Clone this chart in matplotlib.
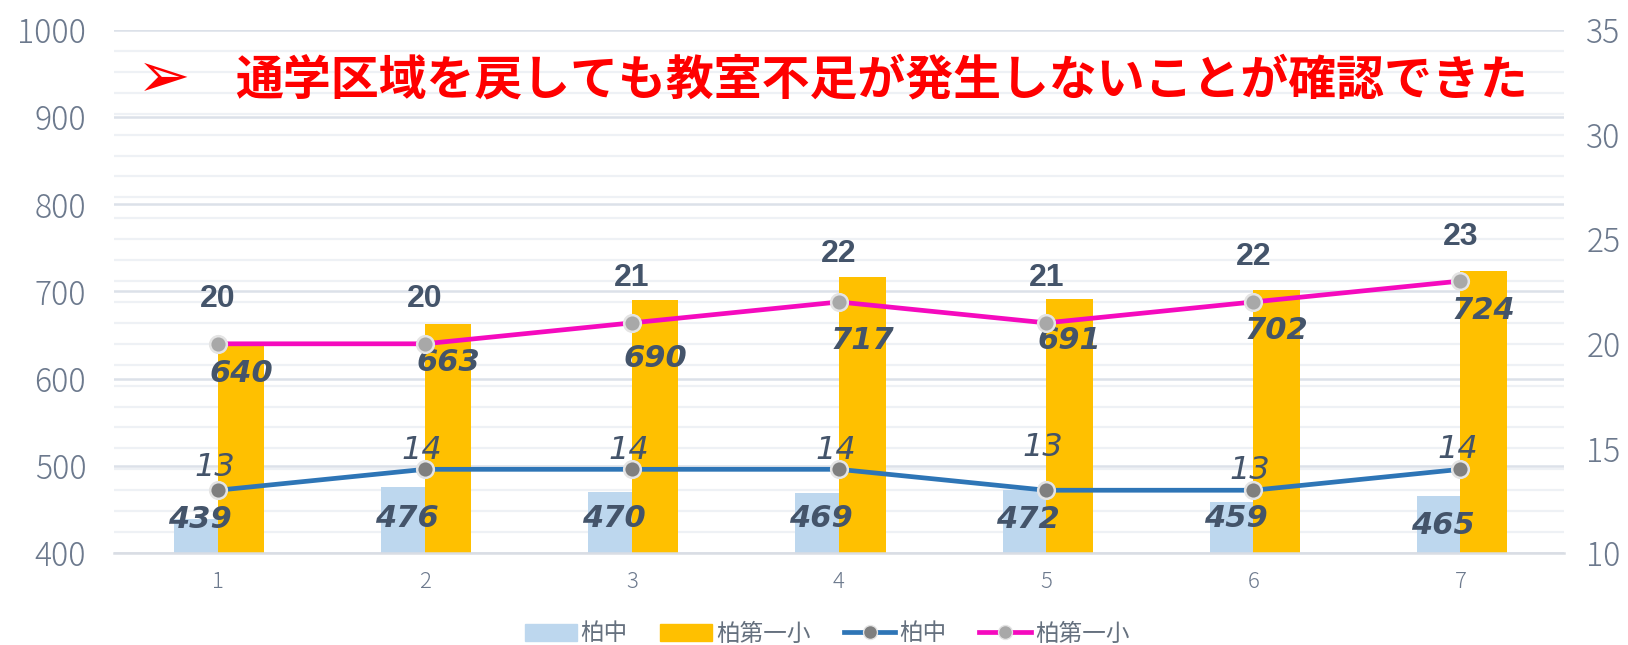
import matplotlib
matplotlib.use("Agg")
import matplotlib.pyplot as plt
from matplotlib.lines import Line2D
from matplotlib.patches import Patch
import numpy as np

# ── Data ──────────────────────────────────────────────────────────────────────
categories = [1, 2, 3, 4, 5, 6, 7]
kashiwa_chu_students = [439, 476, 470, 469, 472, 459, 465]
kashiwa_dai1_students = [640, 663, 690, 717, 691, 702, 724]
kashiwa_chu_rooms = [13, 14, 14, 14, 13, 13, 14]
kashiwa_dai1_rooms = [20, 20, 21, 22, 21, 22, 23]

title_text = "通学区域を戻しても教室不足が発生しないことが確認できた"
series_names = ["柏中", "柏第一小", "柏中", "柏第一小"]

# label placement tweaks (pixels)
dai1_bar_label_drop = [30, 39, 58, 64, 41, 41, 40]
chu_bar_label_drop = [0, 32, 27, 26, 29, 17, 29]
chu_line_label_rise = [23, 19, 19, 19, 43, 20, 20]
dai1_line_label_rise = [45, 45, 45, 48, 45, 45, 44]

# ── Styles ────────────────────────────────────────────────────────────────────
C_CHU_BAR = "#BDD7EE"
C_DAI1_BAR = "#FFC000"
C_CHU_LINE = "#2E75B6"
C_DAI1_LINE = "#F50ABE"
C_LABEL = "#44546A"
C_TICK = "#6C798D"
JP = ["Noto Sans CJK JP", "DejaVu Sans"]

plt.rcParams["font.family"] = JP

W, H = 1628, 645
fig = plt.figure(figsize=(W / 100, H / 100), dpi=100)
ax = fig.add_axes([114 / W, 1 - 553 / H, (1564 - 114) / W, (553 - 30) / H])
ax2 = ax.twinx()

x = np.array(categories, dtype=float)
w_chu, w_dai1 = 0.21, 0.225

ax.bar(x - w_chu / 2, kashiwa_chu_students, width=w_chu, color=C_CHU_BAR, zorder=2)
ax.bar(x + w_dai1 / 2, kashiwa_dai1_students, width=w_dai1, color=C_DAI1_BAR, zorder=2)

ax.set_xlim(0.5, 7.5)
ax.set_ylim(400, 1000)
ax.set_yticks(range(400, 1001, 100))
ax2.set_ylim(10, 35)
ax2.set_yticks(range(10, 36, 5))

# grid: primary majors + secondary unit steps mapped onto the primary scale
ax.set_yticks([400 + (v - 10) * 24 for v in range(10, 36)], minor=True)
ax.set_axisbelow(True)
ax.grid(axis="y", which="minor", color="#EEF1F5", lw=1.6, zorder=0)
ax.grid(axis="y", which="major", color="#DCE1E9", lw=1.8, zorder=0)
ax.tick_params(axis="y", which="minor", length=0)

ax.set_xticks(categories)
ax.tick_params(axis="x", length=0, pad=13, labelsize=16, labelcolor=C_TICK)
ax.tick_params(axis="y", length=0, pad=20, labelsize=23, labelcolor=C_TICK)
ax2.tick_params(axis="y", length=0, pad=16, labelsize=23, labelcolor=C_TICK)
for lab in ax.get_yticklabels() + ax2.get_yticklabels() + ax.get_xticklabels():
    lab.set_fontweight("light")

for a in (ax, ax2):
    for s in a.spines.values():
        s.set_visible(False)
ax.spines["bottom"].set_visible(True)
ax.spines["bottom"].set_color("#D9DDE4")
ax.spines["bottom"].set_linewidth(1.8)

ax2.plot(x, kashiwa_chu_rooms, color=C_CHU_LINE, lw=3.4, marker="o", ms=12,
         mfc="#7F7F7F", mec="#E4E4E4", mew=1.8, zorder=3)
ax2.plot(x, kashiwa_dai1_rooms, color=C_DAI1_LINE, lw=3.4, marker="o", ms=12,
         mfc="#A8A8A8", mec="#E4E4E4", mew=1.8, zorder=3)

# ── Data labels ───────────────────────────────────────────────────────────────
num_font = dict(family="DejaVu Sans", color=C_LABEL, ha="center", va="center")
for i, xi in enumerate(x):
    ax.annotate(str(kashiwa_chu_students[i]), (xi - w_chu / 2, kashiwa_chu_students[i]),
                xytext=(4, -chu_bar_label_drop[i]), textcoords="offset pixels",
                fontsize=22, fontweight="bold", fontstyle="oblique", zorder=5, **num_font)
    ax.annotate(str(kashiwa_dai1_students[i]), (xi + w_dai1 / 2, kashiwa_dai1_students[i]),
                xytext=(0, -dai1_bar_label_drop[i]), textcoords="offset pixels",
                fontsize=22, fontweight="bold", fontstyle="oblique", zorder=5, **num_font)
    ax2.annotate(str(kashiwa_chu_rooms[i]), (xi, kashiwa_chu_rooms[i]),
                 xytext=(-3, chu_line_label_rise[i]), textcoords="offset pixels",
                 fontsize=23, fontstyle="oblique", **num_font)
    ax2.annotate(str(kashiwa_dai1_rooms[i]), (xi, kashiwa_dai1_rooms[i]),
                 xytext=(0, dai1_line_label_rise[i]), textcoords="offset pixels",
                 fontsize=23, fontweight="bold", color=C_LABEL, ha="center", va="center",
                 family="Liberation Sans")

# ── Title banner ──────────────────────────────────────────────────────────────
fig.text(137 / W, 1 - 79 / H, "➢", family="DejaVu Sans", fontsize=46,
         color="#FF0000", ha="left", va="center")
fig.text(235 / W, 1 - 80 / H, title_text, family=JP, fontsize=34.5, fontweight="bold",
         color="#FF0000", ha="left", va="center")

# ── Legend ────────────────────────────────────────────────────────────────────
handles = [
    Patch(color=C_CHU_BAR),
    Patch(color=C_DAI1_BAR),
    Line2D([], [], color=C_CHU_LINE, lw=3.4, marker="o", ms=10, mfc="#7F7F7F", mec="#E4E4E4"),
    Line2D([], [], color=C_DAI1_LINE, lw=3.4, marker="o", ms=10, mfc="#A8A8A8", mec="#E4E4E4"),
]
leg = fig.legend(handles, series_names, loc="center", bbox_to_anchor=(827 / W, 1 - 634 / H),
                 ncol=4, frameon=False, fontsize=17, handlelength=2.2, handleheight=0.7,
                 handletextpad=0.15, columnspacing=1.4, labelcolor="#66717F")

fig.savefig("out.png", dpi=100)
